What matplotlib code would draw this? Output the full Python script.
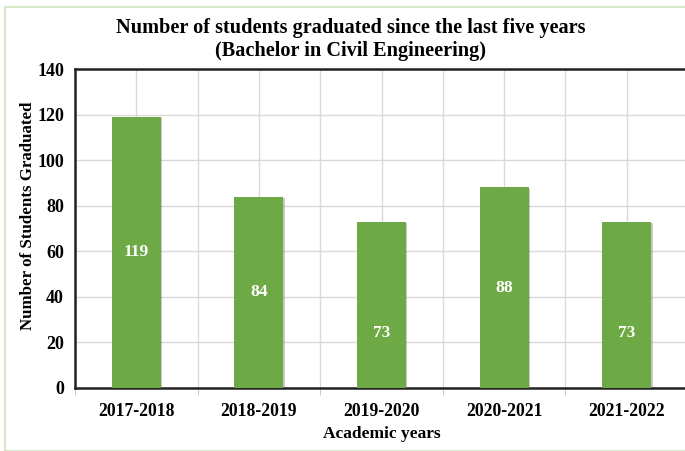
import numpy as np
import matplotlib
import matplotlib.pyplot as plt
import matplotlib.patheffects as pe
from matplotlib.patches import Rectangle

matplotlib.rc("font", family='Liberation Serif', weight='bold')

years = ['2017-2018', '2018-2019', '2019-2020', '2020-2021', '2021-2022']
graduates = [119, 84, 73, 88, 73]
label_y = [59.5, 42, 24, 44, 24]  # where the white numbers sit inside the bars

fig = plt.figure(figsize=(6.85, 4.51), dpi=100)
ax = fig.add_axes([0.1095, 0.14, 0.895, 0.707])

x = np.arange(len(years))
bars = ax.bar(x, graduates, width=0.4, color='#6DAA45', zorder=3)
for b in bars:
    b.set_path_effects([pe.SimplePatchShadow(offset=(1, -1), alpha=0.25), pe.Normal()])

for xi, v, ly in zip(x, graduates, label_y):
    ax.text(xi, ly, str(v), ha='center', va='center', color='white',
            fontsize=12.5, fontweight='bold', zorder=4)

ax.set_xlim(-0.5, 4.5)
ax.set_ylim(0, 140)
ax.set_yticks(range(0, 141, 20))
ax.set_xticks(x)
ax.set_xticklabels(years, fontsize=12.7, fontweight='bold')
ax.tick_params(axis='y', labelsize=13, length=0, pad=8)
ax.tick_params(axis='x', length=0, pad=11)
ax.set_xticks(np.arange(-0.5, 5, 1), minor=True)
ax.tick_params(axis='x', which='minor', length=5, color='#bfbfbf', direction='out')

# grid: horizontal at 20 steps, vertical at centres and boundaries
ax.grid(axis='y', color='#d9d9d9', linewidth=1, zorder=0)
for gx in np.arange(-0.5, 5, 0.5):
    ax.axvline(gx, color='#d9d9d9', linewidth=1, zorder=0)

for s in ['left', 'bottom', 'top']:
    ax.spines[s].set_linewidth(1.8)
    ax.spines[s].set_color('#222222')
ax.spines['right'].set_visible(False)

ax.set_xlabel('Academic years', fontsize=12.5, fontweight='bold', labelpad=4)
ax.set_ylabel('Number of Students Graduated', fontsize=12.2, fontweight='bold')
ax.yaxis.set_label_coords(-0.064, 0.54)

fig.text(0.512, 0.937, 'Number of students graduated since the last five years',
         ha='center', va='center', fontsize=14.6, fontweight='bold')
fig.text(0.512, 0.887, '(Bachelor in Civil Engineering)',
         ha='center', va='center', fontsize=14.6, fontweight='bold')

# faint frame around the chart area
fig.patches.append(Rectangle((0.008, 0.0), 1.2, 0.985, transform=fig.transFigure,
                             fill=False, edgecolor='#d5e8c8', linewidth=1.5))

plt.savefig('out.png', dpi=100)
